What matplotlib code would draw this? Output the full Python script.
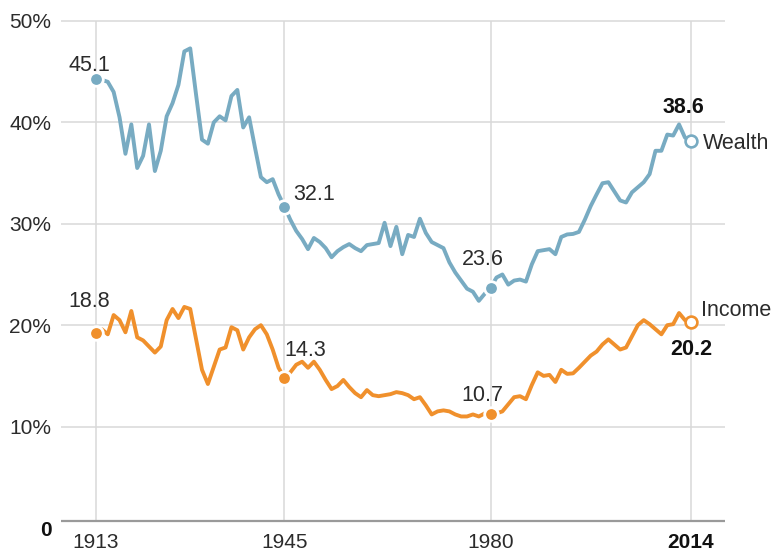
import matplotlib
matplotlib.use("Agg")
import matplotlib.pyplot as plt
import numpy as np
from matplotlib import font_manager

years = list(range(1913, 2015))

wealth = [
    44.3, 44.2, 44.0, 43.0, 40.5, 36.9, 39.8, 35.5, 36.7, 39.8,
    35.2, 37.2, 40.6, 41.9, 43.7, 47.0, 47.3, 42.7, 38.3, 37.9,
    40.0, 40.6, 40.2, 42.6, 43.2, 39.5, 40.5, 37.5, 34.6, 34.1,
    34.4, 32.9, 31.7, 30.4, 29.3, 28.5, 27.5, 28.6, 28.2, 27.6,
    26.7, 27.3, 27.7, 28.0, 27.6, 27.3, 27.9, 28.0, 28.1, 30.1,
    27.8, 29.7, 27.0, 28.9, 28.7, 30.5, 29.1, 28.2, 27.9, 27.6,
    26.2, 25.2, 24.4, 23.6, 23.3, 22.4, 23.1, 23.7, 24.7, 25.0,
    24.0, 24.4, 24.5, 24.3, 26.0, 27.3, 27.4, 27.5, 27.0, 28.7,
    28.95, 29.0, 29.2, 30.4, 31.75, 32.9, 34.0, 34.1, 33.2, 32.3,
    32.1, 33.1, 33.6, 34.1, 34.9, 37.2, 37.2, 38.8, 38.7, 39.8,
    38.5, 38.2,
]

income = [
    19.2, 19.6, 19.1, 21.0, 20.5, 19.3, 21.4, 18.8, 18.5, 17.9,
    17.3, 17.9, 20.5, 21.6, 20.7, 21.8, 21.6, 18.6, 15.6, 14.2,
    15.9, 17.6, 17.8, 19.8, 19.5, 17.6, 18.8, 19.6, 20.0, 19.1,
    17.6, 15.8, 14.8, 15.35, 16.1, 16.4, 15.8, 16.4, 15.6, 14.6,
    13.7, 14.0, 14.6, 13.9, 13.3, 12.9, 13.6, 13.1, 13.0, 13.1,
    13.2, 13.4, 13.3, 13.1, 12.7, 12.9, 12.1, 11.2, 11.5, 11.6,
    11.5, 11.2, 11.0, 11.0, 11.2, 11.0, 11.3, 11.2, 11.3, 11.5,
    12.2, 12.9, 13.0, 12.7, 14.1, 15.35, 15.0, 15.1, 14.4, 15.6,
    15.2, 15.25, 15.8, 16.4, 17.0, 17.4, 18.1, 18.6, 18.1, 17.6,
    17.8, 18.9, 20.0, 20.5, 20.1, 19.6, 19.1, 20.0, 20.1, 21.2,
    20.5, 20.3,
]

mark_years = [1913, 1945, 1980]
end_year = 2014
wealth_labels = ["45.1", "32.1", "23.6"]
income_labels = ["18.8", "14.3", "10.7"]
wealth_end_label = "38.6"
income_end_label = "20.2"
series_names = ["Wealth", "Income"]

x_ticks = [1913, 1945, 1980, 2014]
y_ticks = [0, 10, 20, 30, 40, 50]
y_tick_labels = ["0", "10%", "20%", "30%", "40%", "50%"]

WC = "#78abc2"
IC = "#f0902c"
GRID = "#d9d9d9"
TXT = "#2b2b2b"

names = {f.name for f in font_manager.fontManager.ttflist}
MAIN = "Liberation Sans"
NARROW = "Liberation Sans Narrow" if "Liberation Sans Narrow" in names else "Liberation Sans"
plt.rcParams["font.family"] = [MAIN, "DejaVu Sans"]

W, H = 776, 552
fig = plt.figure(figsize=(W / 100, H / 100), dpi=100)
px_top, px_zero = 14.9, 528.0
ax = fig.add_axes([61 / W, (H - px_zero) / H, (725 - 61) / W, (px_zero - px_top) / H])
ax.set_xlim(1907.06, 2019.8)
ax.set_ylim(0, 50.6)

BASE = 0.7
for s in ax.spines.values():
    s.set_visible(False)

# gridlines
for yv in y_ticks[1:]:
    ax.axhline(yv, color=GRID, lw=1.1, zorder=1)
ax.vlines(x_ticks, BASE, 50, color=GRID, lw=1.1, zorder=1)
ax.axhline(BASE, color="#9a9a9a", lw=1.6, zorder=2)

yrs = np.array(years)
w = np.array(wealth)
inc = np.array(income)

LW = 2.8
ax.plot(yrs, w, color=WC, lw=LW, zorder=3, solid_joinstyle="round", solid_capstyle="round")
ax.plot(yrs, inc, color=IC, lw=LW, zorder=3, solid_joinstyle="round", solid_capstyle="round")

idx = [years.index(y) for y in mark_years]
ie = years.index(end_year)
ax.plot(yrs[idx], w[idx], "o", ms=9.8, mfc=WC, mec="white", mew=2.0, zorder=4)
ax.plot(yrs[idx], inc[idx], "o", ms=9.8, mfc=IC, mec="white", mew=2.0, zorder=4)
ax.plot([end_year], [w[ie]], "o", ms=8.5, mfc="white", mec=WC, mew=1.9, zorder=4)
ax.plot([end_year], [inc[ie]], "o", ms=8.5, mfc="white", mec=IC, mew=1.9, zorder=4)

FS = 15.5
w_offsets = [(-7, 13), (30, 12), (-8, 28)]
i_offsets = [(-7, 32), (21, 27), (-8, 19)]
for k, i in enumerate(idx):
    ax.annotate(wealth_labels[k], (yrs[i], w[i]), xytext=w_offsets[k], textcoords="offset pixels",
                ha="center", va="center", fontsize=FS, color=TXT, zorder=5)
    ax.annotate(income_labels[k], (yrs[i], inc[i]), xytext=i_offsets[k], textcoords="offset pixels",
                ha="center", va="center", fontsize=FS, color=TXT, zorder=5)

ax.annotate(wealth_end_label, (end_year, w[ie]), xytext=(-7, 33), textcoords="offset pixels",
            ha="center", va="center", fontsize=FS, fontweight="bold", color="#111111")
ax.annotate(series_names[0], (end_year, w[ie]), xytext=(12, -3), textcoords="offset pixels",
            ha="left", va="center", fontsize=FS, color=TXT, annotation_clip=False)
ax.annotate(income_end_label, (end_year, inc[ie]), xytext=(0, -27), textcoords="offset pixels",
            ha="center", va="center", fontsize=FS, fontweight="bold", color="#111111")
ax.annotate(series_names[1], (end_year, inc[ie]), xytext=(10, 12), textcoords="offset pixels",
            ha="left", va="center", fontsize=FS, color=TXT, annotation_clip=False)

ax.set_yticks(y_ticks)
ax.set_yticklabels(y_tick_labels)
ax.tick_params(axis="y", length=0, pad=7, labelsize=15, labelcolor=TXT)
for lab in ax.get_yticklabels():
    if lab.get_text() == "0":
        lab.set_fontweight("bold")
        lab.set_color("#111111")

ax.set_xticks(x_ticks)
ax.set_xticklabels([str(x) for x in x_ticks])
ax.tick_params(axis="x", length=0, pad=3.5, labelsize=15, labelcolor=TXT)
for lab in ax.get_xticklabels():
    lab.set_fontfamily([NARROW, "DejaVu Sans"])
    if lab.get_text() == str(end_year):
        lab.set_fontweight("bold")
        lab.set_color("#111111")

fig.savefig("out.png", dpi=100)
